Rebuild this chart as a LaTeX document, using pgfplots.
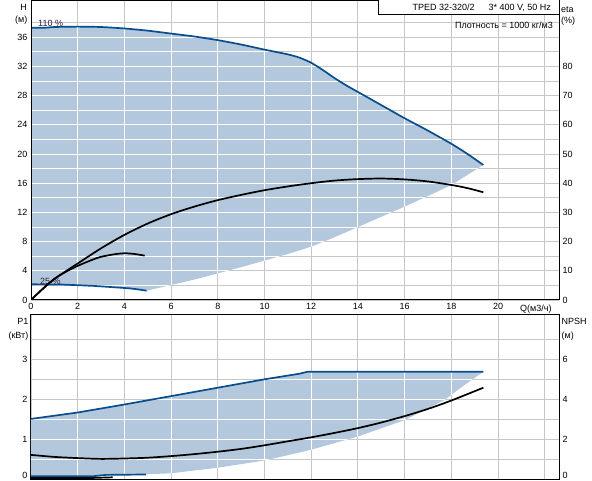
\documentclass[border=0pt]{standalone}
\usepackage{fontspec}
\setmainfont{Liberation Sans}
\usepackage{pgfplots}
\pgfplotsset{compat=1.18}

\definecolor{areafill}{RGB}{180,200,221}
\definecolor{curveblue}{RGB}{8,78,140}
\definecolor{gridgray}{RGB}{198,198,198}
\definecolor{labtext}{RGB}{45,30,70}

\pgfplotsset{
  pumpaxis/.style={
    scale only axis, anchor=south west,
    xmin=0, xmax=22.61,
    major tick length=0pt, minor tick length=0pt,
    axis line style={line width=1pt},
    tick label style={font=\fontsize{9}{10}\selectfont},
    /pgf/number format/assume math mode=true,
  },
  pumpgrid/.style={
    pumpaxis,
    grid=both,
    grid style={gridgray, line width=0.9pt},
    minor grid style={gridgray, line width=0.9pt},
  },
  rightaxis/.style={
    pumpaxis,
    hide x axis,
    axis y line*=right,
  },
  zeroup/.style={
    extra y ticks={0},
    extra y tick style={grid=none, yticklabel style={yshift=3.5pt}},
  },
}

\begin{document}
\begin{tikzpicture}
\useasboundingbox (0pt,0pt) rectangle (592pt,480pt);

% ---------- H(Q) ----------
\begin{axis}[pumpgrid, at={(31pt,180pt)}, width=528pt, height=300pt,
  ymin=0, ymax=41.1,
  xtick={0,2,...,20}, minor xtick={22},
  ytick={0,4,...,36}, minor ytick={2,6,...,38}]

% working area
\addplot[draw=none, fill=areafill] coordinates {
  (0,2.15) (0,37.3) (0.6,37.3) (1,37.4) (2,37.45) (3,37.4) (4,37.2) (5,36.9) (6,36.5)
  (7,36.1) (8,35.6) (9,35.0) (10,34.3) (11,33.65) (11.5,33.2) (12,32.5)
  (12.5,31.5) (13,30.4) (13.5,29.4) (14,28.5) (15,26.7) (16,24.9) (17,23.2)
  (18,21.4) (18.6,20.2) (19.37,18.5)
  (18,15.75) (17,14.25) (16,12.8) (15,11.4) (14,10.0) (13,8.6) (12,7.3)
  (11,6.3) (10,5.4) (9,4.5) (8,3.65) (7,2.8) (6,2.05) (4.95,1.27)
  (4.6,1.45) (4.2,1.6) (3.4,1.78) (2.7,1.93) (2.0,2.03) (1.3,2.12) (0,2.15)
};

% white grid inside the area
\pgfplotsextra{
  \begin{scope}
  \clip (axis cs:0,2.15) -- (axis cs:0,37.3) -- (axis cs:0.6,37.3) -- (axis cs:1,37.4) -- (axis cs:2,37.45)
    -- (axis cs:3,37.4) -- (axis cs:4,37.2) -- (axis cs:5,36.9) -- (axis cs:6,36.5)
    -- (axis cs:7,36.1) -- (axis cs:8,35.6) -- (axis cs:9,35.0) -- (axis cs:10,34.3)
    -- (axis cs:11,33.65) -- (axis cs:11.5,33.2) -- (axis cs:12,32.5) -- (axis cs:12.5,31.5)
    -- (axis cs:13,30.4) -- (axis cs:13.5,29.4) -- (axis cs:14,28.5) -- (axis cs:15,26.7)
    -- (axis cs:16,24.9) -- (axis cs:17,23.2) -- (axis cs:18,21.4) -- (axis cs:18.6,20.2)
    -- (axis cs:19.37,18.5) -- (axis cs:18,15.75) -- (axis cs:17,14.25) -- (axis cs:16,12.8)
    -- (axis cs:15,11.4) -- (axis cs:14,10.0) -- (axis cs:13,8.6) -- (axis cs:12,7.3)
    -- (axis cs:11,6.3) -- (axis cs:10,5.4) -- (axis cs:9,4.5) -- (axis cs:8,3.65)
    -- (axis cs:7,2.8) -- (axis cs:6,2.05) -- (axis cs:4.95,1.27) -- (axis cs:4.6,1.45)
    -- (axis cs:4.2,1.6) -- (axis cs:3.4,1.78) -- (axis cs:2.7,1.93) -- (axis cs:2.0,2.03)
    -- (axis cs:1.3,2.12) -- cycle;
  \foreach \q in {2,4,...,22} {\draw[white, line width=0.9pt] (axis cs:\q,0) -- (axis cs:\q,41.1);}
  \foreach \h in {2,4,...,38} {\draw[white, line width=0.9pt] (axis cs:0,\h) -- (axis cs:22.61,\h);}
  \end{scope}
}

% 110 % curve
\addplot[curveblue, line width=1.7pt, smooth, tension=0.4] coordinates {
  (0,37.3) (0.6,37.3) (1,37.4) (2,37.45) (3,37.4) (4,37.2) (5,36.9) (6,36.5)
  (7,36.1) (8,35.6) (9,35.0) (10,34.3) (11,33.65) (11.5,33.2) (12,32.5)
  (12.5,31.5) (13,30.4) (13.5,29.4) (14,28.5) (15,26.7) (16,24.9) (17,23.2)
  (18,21.4) (18.6,20.2) (19.37,18.5)
};
% 25 % curve
\addplot[curveblue, line width=1.7pt] coordinates {
  (0,2.15) (1.3,2.12) (2.0,2.03) (2.7,1.93) (3.4,1.78) (4.2,1.6) (4.6,1.45) (4.95,1.27)
};

\node[anchor=west, inner sep=0, text=labtext, font=\fontsize{9}{10}\selectfont] at (axis cs:0.3,37.9) {110 \%};
\node[anchor=west, inner sep=0, text=labtext, font=\fontsize{9}{10}\selectfont] at (axis cs:0.38,2.6) {25 \%};
\draw[line width=1pt] (rel axis cs:0,0) rectangle (rel axis cs:1,1);
\end{axis}

% ---------- eta(Q) ----------
\begin{axis}[rightaxis, at={(31pt,180pt)}, width=528pt, height=300pt,
  ymin=0, ymax=102.75, ytick={0,10,...,80}]
\addplot[black, line width=1.7pt, smooth, tension=0.5] coordinates {
  (0,0) (0.5,3.8) (1,7.2) (1.5,9.9) (2,12.5) (3,17.7) (4,22.3) (5,26.2)
  (6,29.4) (7,32.0) (8,34.2) (9,36.0) (10,37.6) (11,38.9) (12,40.0)
  (13,40.9) (14,41.4) (15,41.6) (16,41.3) (17,40.6) (18,39.4) (18.7,38.3) (19.37,36.9)
};
\addplot[black, line width=1.7pt, smooth, tension=0.5] coordinates {
  (0,0) (0.5,3.8) (1,7.2) (1.5,9.7) (2,11.7) (2.6,13.7) (3,14.8) (3.6,15.7)
  (4.0,16.0) (4.4,15.8) (4.87,15.2)
};
\end{axis}

% ---------- P1(Q) ----------
\begin{axis}[pumpgrid, zeroup, at={(31pt,0.7pt)}, width=528pt, height=165pt,
  ymin=0, ymax=4.125,
  xtick={0,2,...,20}, minor xtick={22}, xticklabels={},
  ytick={1,2,3}, minor ytick={0.5,1.5,2.5,3.5}]

\addplot[draw=none, fill=areafill] coordinates {
  (0,0.08) (0,1.51) (2,1.67) (4,1.87) (6,2.08) (8,2.29) (10,2.5) (11.5,2.64)
  (11.85,2.69) (19.37,2.69) (18.5,2.33) (17.7,1.98) (16,1.48) (14,1.07)
  (12,0.74) (11.5,0.67) (10,0.47) (8,0.29) (6,0.15) (4.95,0.125) (3.2,0.1) (2,0.08) (0,0.08)
};

\pgfplotsextra{
  \begin{scope}
  \clip (axis cs:0,0.08) -- (axis cs:0,1.51) -- (axis cs:2,1.67) -- (axis cs:4,1.87)
    -- (axis cs:6,2.08) -- (axis cs:8,2.29) -- (axis cs:10,2.5) -- (axis cs:11.5,2.64)
    -- (axis cs:11.85,2.69) -- (axis cs:19.37,2.69) -- (axis cs:18.5,2.33) -- (axis cs:17.7,1.98)
    -- (axis cs:16,1.48) -- (axis cs:14,1.07) -- (axis cs:12,0.74) -- (axis cs:11.5,0.67)
    -- (axis cs:10,0.47) -- (axis cs:8,0.29) -- (axis cs:6,0.15) -- (axis cs:4.95,0.125)
    -- (axis cs:3.2,0.1) -- (axis cs:2,0.08) -- cycle;
  \foreach \q in {2,4,...,22} {\draw[white, line width=0.9pt] (axis cs:\q,0) -- (axis cs:\q,4.125);}
  \foreach \p in {0.5,1,...,3.5} {\draw[white, line width=0.9pt] (axis cs:0,\p) -- (axis cs:22.61,\p);}
  \end{scope}
}

\addplot[curveblue, line width=1.7pt] coordinates {
  (0,1.51) (2,1.67) (4,1.87) (6,2.08) (8,2.29) (10,2.5) (11.5,2.64)
  (11.85,2.69) (19.37,2.69)
};
\addplot[curveblue, line width=1.7pt] coordinates {
  (0,0.08) (2.7,0.08) (3.2,0.11) (4.92,0.12)
};
\addplot[black, line width=1.7pt] coordinates {
  (0,0.035) (2.7,0.035) (3.5,0.05)
};
\addplot[black, line width=1.7pt, smooth, tension=0.5] coordinates {
  (0,0.61) (1,0.56) (2,0.53) (3,0.51) (4,0.52) (5,0.54) (6,0.58) (7,0.63)
  (8,0.69) (9,0.76) (10,0.85) (11,0.95) (12,1.05) (13,1.16) (14,1.28)
  (15,1.42) (16,1.58) (17,1.76) (18,1.97) (19.37,2.29)
};
\draw[line width=1pt] (rel axis cs:0,0) rectangle (rel axis cs:1,1);
\end{axis}

% ---------- NPSH scale ----------
\begin{axis}[rightaxis, zeroup, at={(31pt,0.7pt)}, width=528pt, height=165pt,
  ymin=0, ymax=8.25, ytick={2,4,6}]
\end{axis}

% ---------- texts ----------
\begin{scope}[every node/.style={inner sep=0, font=\fontsize{9}{10}\selectfont}]
\node[anchor=east] at (27pt,473pt) {H};
\node[anchor=east] at (27.5pt,460pt) {(м)};
\node[anchor=west] at (561pt,470pt) {eta};
\node[anchor=west] at (561pt,459pt) {(\%)};
\node[anchor=west] at (520pt,171pt) {Q(м3/ч)};
\node[anchor=east] at (28.5pt,158.3pt) {P1};
\node[anchor=east] at (28.5pt,144pt) {(кВт)};
\node[anchor=west] at (561.5pt,158.3pt) {NPSH};
\node[anchor=west] at (561.5pt,144pt) {(м)};
\draw[line width=1pt, fill=white] (378pt,465pt) rectangle (559pt,481pt);
\node[anchor=east] at (551pt,472.5pt) {TPED 32-320/2\hspace{14pt}3* 400 V, 50 Hz};
\node[anchor=east] at (553pt,455pt) {Плотность = 1000 кг/м3};
\end{scope}
\end{tikzpicture}
\end{document}
